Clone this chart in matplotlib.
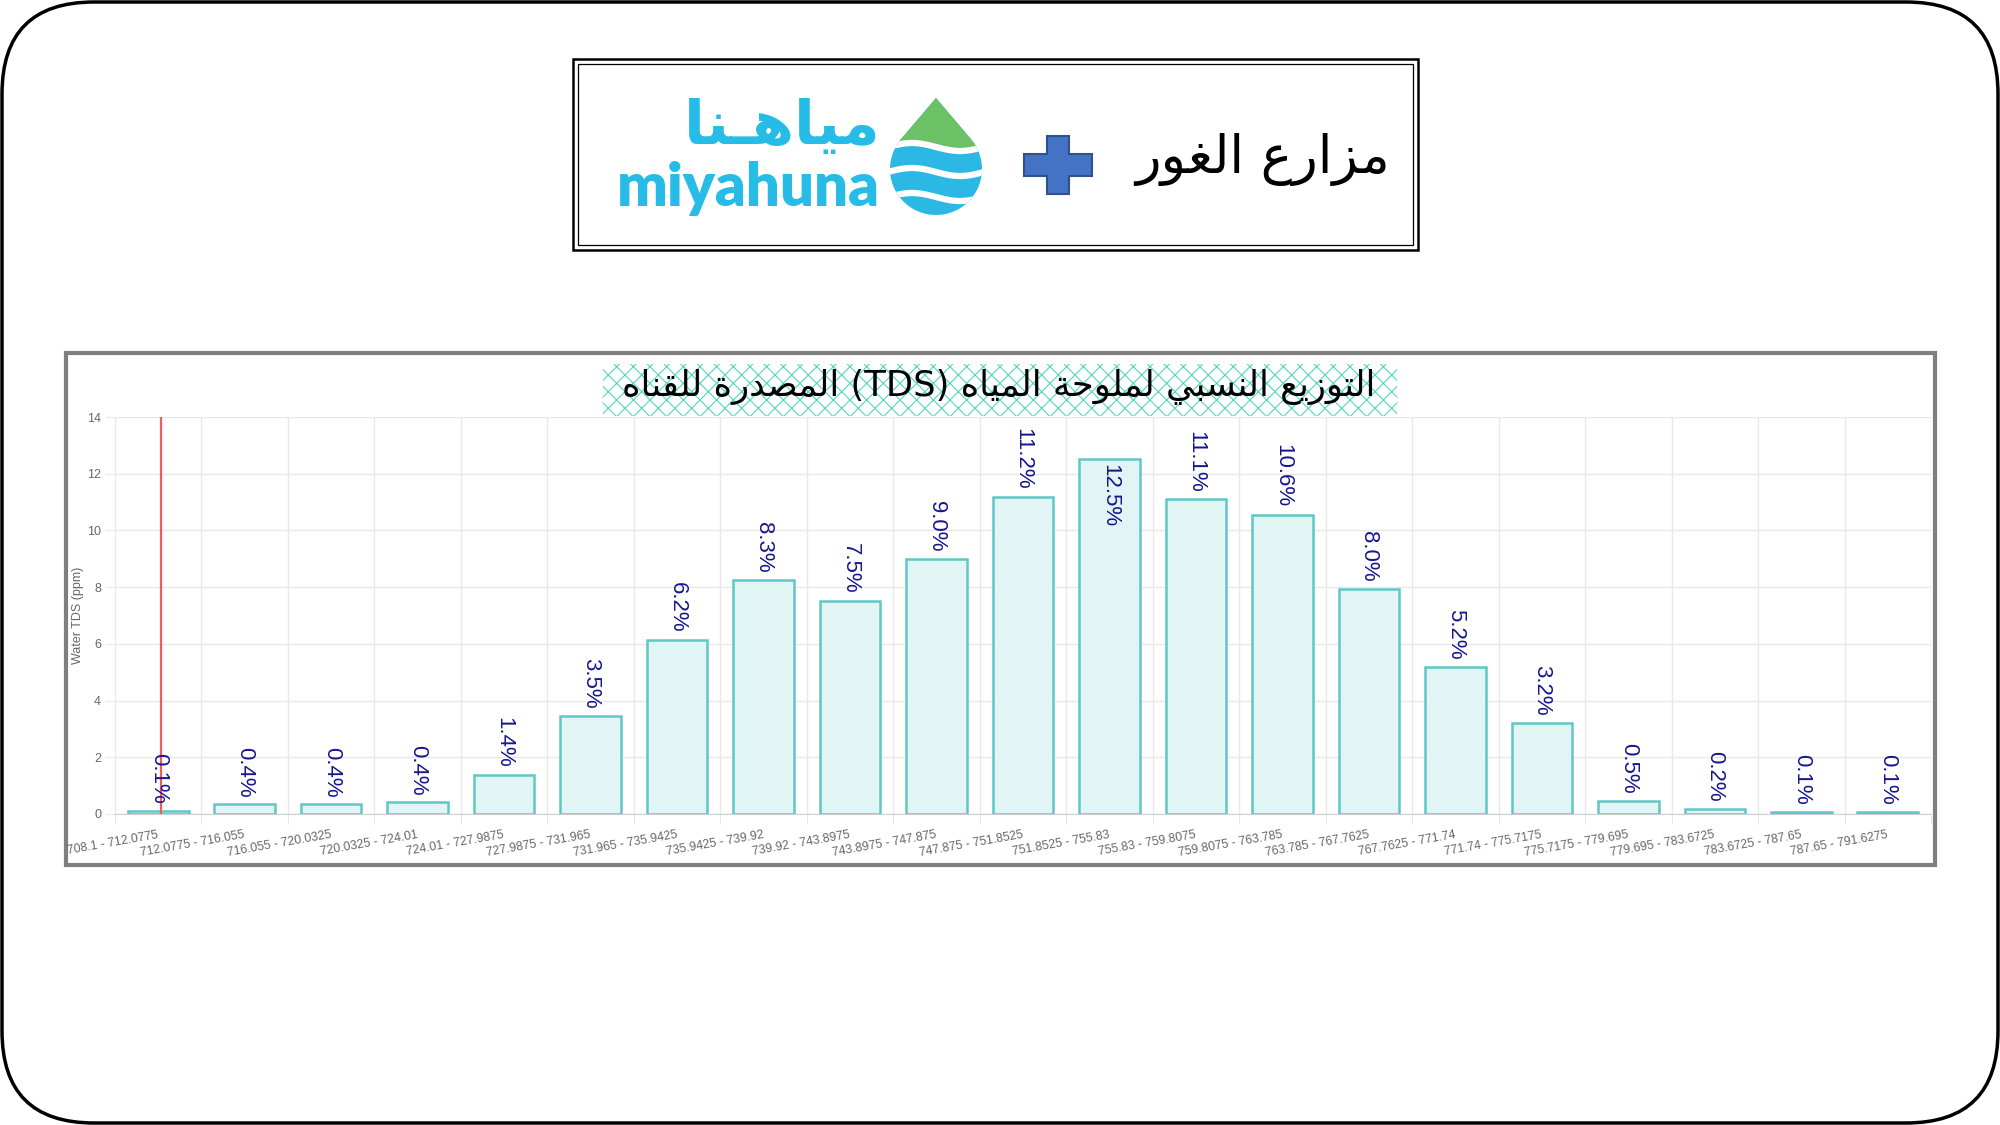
import numpy as np
import matplotlib
matplotlib.use("Agg")
import matplotlib.pyplot as plt
from matplotlib.patches import Rectangle, FancyBboxPatch, Polygon

plt.rcParams['font.family'] = ['Liberation Sans', 'DejaVu Sans']
plt.rcParams['hatch.linewidth'] = 0.8

# data
bins = ['708.1 - 712.0775', '712.0775 - 716.055', '716.055 - 720.0325', '720.0325 - 724.01',
        '724.01 - 727.9875', '727.9875 - 731.965', '731.965 - 735.9425', '735.9425 - 739.92',
        '739.92 - 743.8975', '743.8975 - 747.875', '747.875 - 751.8525', '751.8525 - 755.83',
        '755.83 - 759.8075', '759.8075 - 763.785', '763.785 - 767.7625', '767.7625 - 771.74',
        '771.74 - 775.7175', '775.7175 - 779.695', '779.695 - 783.6725', '783.6725 - 787.65',
        '787.65 - 791.6275']
heights = [0.12, 0.35, 0.35, 0.41, 1.38, 3.47, 6.15, 8.26, 7.52, 9.0, 11.18,
           12.53, 11.1, 10.56, 7.95, 5.2, 3.21, 0.47, 0.19, 0.07, 0.07]
pct_labels = ['0.1%', '0.4%', '0.4%', '0.4%', '1.4%', '3.5%', '6.2%', '8.3%', '7.5%',
              '9.0%', '11.2%', '12.5%', '11.1%', '10.6%', '8.0%', '5.2%', '3.2%',
              '0.5%', '0.2%', '0.1%', '0.1%']
marker_x = 0.03  # red reference line, in bin units

title_txt = 'التوزيع النسبي لملوحة المياه (TDS) المصدرة للقناه'
farm_txt = 'مزارع الغور'
logo_ar = 'مياهـنا'
logo_en = 'miyahuna'
y_label = 'Water TDS (ppm)'

# matplotlib has no arabic shaping, so map letters to presentation forms
FORMS = {
    'ا': (0xFE8D, 0xFE8E, None, None),
    'ب': (0xFE8F, 0xFE90, 0xFE91, 0xFE92),
    'ة': (0xFE93, 0xFE94, None, None),
    'ت': (0xFE95, 0xFE96, 0xFE97, 0xFE98),
    'ح': (0xFEA1, 0xFEA2, 0xFEA3, 0xFEA4),
    'د': (0xFEA9, 0xFEAA, None, None),
    'ر': (0xFEAD, 0xFEAE, None, None),
    'ز': (0xFEAF, 0xFEB0, None, None),
    'س': (0xFEB1, 0xFEB2, 0xFEB3, 0xFEB4),
    'ص': (0xFEB9, 0xFEBA, 0xFEBB, 0xFEBC),
    'ع': (0xFEC9, 0xFECA, 0xFECB, 0xFECC),
    'غ': (0xFECD, 0xFECE, 0xFECF, 0xFED0),
    'ق': (0xFED5, 0xFED6, 0xFED7, 0xFED8),
    'ل': (0xFEDD, 0xFEDE, 0xFEDF, 0xFEE0),
    'م': (0xFEE1, 0xFEE2, 0xFEE3, 0xFEE4),
    'ن': (0xFEE5, 0xFEE6, 0xFEE7, 0xFEE8),
    'ه': (0xFEE9, 0xFEEA, 0xFEEB, 0xFEEC),
    'و': (0xFEED, 0xFEEE, None, None),
    'ي': (0xFEF1, 0xFEF2, 0xFEF3, 0xFEF4),
    'ـ': (0x640, 0x640, 0x640, 0x640),
}


def shape_word(w):
    out = []
    for i, c in enumerate(w):
        if c not in FORMS:
            out.append(c)
            continue
        iso, fin, ini, med = FORMS[c]
        prev = w[i - 1] if i > 0 else ''
        nxt = w[i + 1] if i + 1 < len(w) else ''
        jp = prev in FORMS and FORMS[prev][2] is not None
        jn = ini is not None and nxt in FORMS
        if jp and jn:
            code = med
        elif jp:
            code = fin
        elif jn:
            code = ini
        else:
            code = iso
        out.append(chr(code))
    return ''.join(reversed(out))


def ar(text):
    words = text.split(' ')
    return ' '.join(shape_word(w) if any(c in FORMS for c in w) else w
                    for w in reversed(words))


fig = plt.figure(figsize=(20, 11.25), dpi=100)

# background layer in pixel coordinates
bg = fig.add_axes([0, 0, 1, 1])
bg.set_xlim(0, 2000)
bg.set_ylim(1125, 0)
bg.axis('off')

bg.add_patch(FancyBboxPatch((2, 2), 1996, 1121, boxstyle='round,pad=0,rounding_size=92',
                            fc='white', ec='black', lw=2.5))

# logo box
bg.add_patch(Rectangle((573, 59), 845, 191, fc='white', ec='black', lw=1.8))
bg.add_patch(Rectangle((578, 64), 835, 181, fc='none', ec='black', lw=0.9))

# drop
cx, cy, r = 936, 169, 46
apex = (936, 98)
d = cy - apex[1]
phi = np.arccos(r / d)
angs = np.linspace(-np.pi / 2 + phi, 3 * np.pi / 2 - phi, 80)
outline = [apex] + [(cx + r * np.cos(a), cy + r * np.sin(a)) for a in angs]
drop = Polygon(outline, closed=True, fc='#2bb8e4', ec='none')
bg.add_patch(drop)
wx = np.linspace(cx - r - 2, cx + r + 2, 60)
wave = lambda y0: y0 - 4 * np.sin(2 * np.pi * (wx - wx[0]) / (wx[-1] - wx[0]))
green = Polygon([(wx[0], 80)] + list(zip(wx, wave(145))) + [(wx[-1], 80)],
                closed=True, fc='#6cc066', ec='none')
bg.add_patch(green)
green.set_clip_path(drop)
for y0 in (147, 172, 197):
    ln, = bg.plot(wx, wave(y0), color='white', lw=4.5, solid_capstyle='butt')
    ln.set_clip_path(drop)

bg.text(782, 128, ar(logo_ar), family=['DejaVu Sans'], weight='bold', fontsize=44,
        color='#27bce6', ha='center', va='center')
bg.text(748, 189, logo_en, family=['Lato', 'DejaVu Sans'], weight='heavy', fontsize=43,
        color='#27bce6', ha='center', va='center')

# plus sign
pxc, pyc, arm, th = 1058, 165, 34, 11
plus = [(pxc - th, pyc - 29), (pxc + th, pyc - 29), (pxc + th, pyc - th), (pxc + arm, pyc - th),
        (pxc + arm, pyc + th), (pxc + th, pyc + th), (pxc + th, pyc + 29), (pxc - th, pyc + 29),
        (pxc - th, pyc + th), (pxc - arm, pyc + th), (pxc - arm, pyc - th), (pxc - th, pyc - th)]
bg.add_patch(Polygon(plus, closed=True, fc='#4472c4', ec='#2f528f', lw=1.5))

bg.text(1263, 160, ar(farm_txt), family=['DejaVu Sans'], fontsize=38, color='black',
        ha='center', va='center')

# chart panel
bg.add_patch(Rectangle((66, 353), 1869, 512, fc='white', ec='#7f7f7f', lw=3))
bg.add_patch(Rectangle((603, 364), 794, 52, fc='white', ec='#52d8bc', lw=0, hatch='xx'))
bg.text(999, 387, ar(title_txt), family=['DejaVu Sans'], fontsize=25.5, color='black',
        ha='center', va='center')

# bar chart
ax = fig.add_axes([115 / 2000, 1 - 814 / 1125, 1816 / 2000, 397 / 1125])
ax.set_facecolor('none')
x = np.arange(len(bins))
ax.bar(x, heights, width=0.7, color='#e1f5f4', edgecolor='#5ec8c6', linewidth=1.8, zorder=3)
ax.axvline(marker_x, color='#f25c5c', lw=1.6, zorder=4)

for xi, h, lab in zip(x, heights, pct_labels):
    if h + 2.4 > 14:
        ax.annotate(lab, (xi, h), xytext=(0, -4), textcoords='offset points', rotation=270,
                    ha='center', va='top', fontsize=16, color='#161690', zorder=5)
    else:
        ax.annotate(lab, (xi, h), xytext=(0, 5), textcoords='offset points', rotation=270,
                    ha='center', va='bottom', fontsize=16, color='#161690', zorder=5)

ax.set_xlim(-0.5, len(bins) - 0.5)
ax.set_ylim(0, 14)
ax.set_yticks(range(0, 15, 2))
ax.set_xticks(x)
ax.set_xticklabels(bins, rotation=10, ha='right', va='center', rotation_mode='anchor',
                   fontsize=8.7, color='#666666')
ax.set_xticks(np.arange(-0.5, len(bins)), minor=True)
ax.grid(which='minor', axis='x', color='#e8e8e8', lw=1)
ax.grid(which='major', axis='y', color='#e8e8e8', lw=1)
ax.grid(which='major', axis='x', visible=False)
ax.tick_params(axis='x', which='major', length=0, pad=15)
ax.tick_params(axis='x', which='minor', length=7, color='#e0e0e0')
ax.tick_params(axis='y', length=7, color='#e8e8e8', labelsize=9, labelcolor='#666666', pad=3)
ax.set_ylabel(y_label, fontsize=9, color='#666666', labelpad=2)
for s in ('top', 'right'):
    ax.spines[s].set_visible(False)
ax.spines['left'].set_color('#e8e8e8')
ax.spines['bottom'].set_color('#cfcfcf')

fig.savefig('out.png', dpi=100)
